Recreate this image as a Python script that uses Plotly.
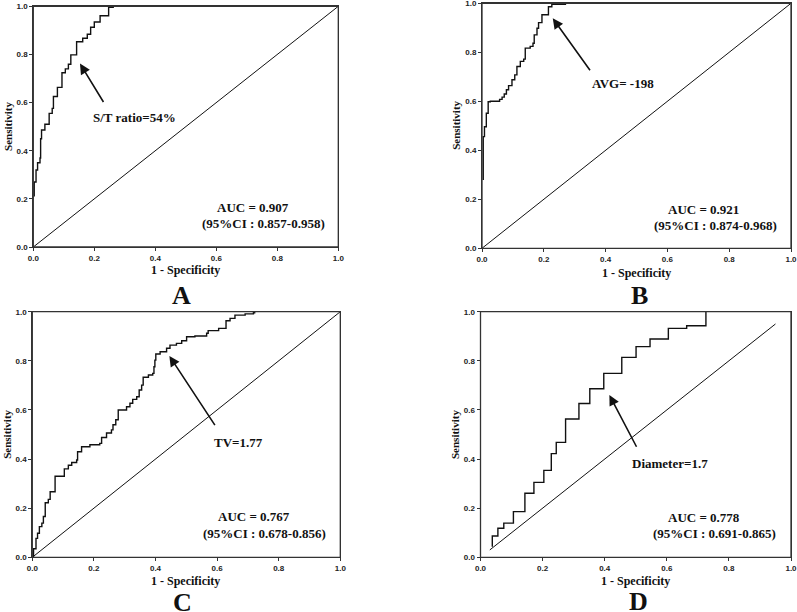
import plotly.graph_objects as go

# ROC curve A : S/T ratio
fpr_a = [0.003, 0.003, 0.009, 0.014, 0.022, 0.024, 0.027, 0.038, 0.052, 0.062, 0.066, 0.079,
         0.094, 0.105, 0.115, 0.123, 0.142, 0.162, 0.177, 0.188, 0.200, 0.219, 0.247, 0.262, 0.270]
tpr_a = [0.210, 0.270, 0.320, 0.350, 0.370, 0.450, 0.486, 0.510, 0.555, 0.576, 0.625, 0.663,
         0.724, 0.740, 0.759, 0.798, 0.853, 0.867, 0.884, 0.913, 0.935, 0.961, 0.996, 1.000, 1.000]

# ROC curve B : AVG
fpr_b = [0.004, 0.004, 0.008, 0.014, 0.020, 0.027, 0.057, 0.065, 0.072, 0.079, 0.086, 0.097,
         0.106, 0.113, 0.124, 0.135, 0.140, 0.156, 0.165, 0.169, 0.178, 0.183, 0.194, 0.215,
         0.226, 0.270]
tpr_b = [0.279, 0.456, 0.496, 0.551, 0.598, 0.600, 0.608, 0.617, 0.630, 0.647, 0.664, 0.688,
         0.708, 0.742, 0.763, 0.772, 0.817, 0.824, 0.837, 0.871, 0.898, 0.921, 0.953, 0.986,
         0.996, 1.000]

# ROC curve C : TV
fpr_c = [0.000, 0.004, 0.012, 0.017, 0.023, 0.031, 0.036, 0.042, 0.052, 0.058, 0.074, 0.101,
         0.104, 0.117, 0.128, 0.144, 0.147, 0.160, 0.187, 0.219, 0.225, 0.241, 0.257, 0.262,
         0.271, 0.279, 0.306, 0.317, 0.326, 0.339, 0.347, 0.355, 0.360, 0.377, 0.391, 0.395,
         0.398, 0.401, 0.415, 0.436, 0.447, 0.468, 0.485, 0.501, 0.528, 0.566, 0.571, 0.605,
         0.629, 0.642, 0.658, 0.691, 0.718, 0.722]
tpr_c = [0.000, 0.035, 0.077, 0.098, 0.125, 0.139, 0.166, 0.222, 0.236, 0.267, 0.330, 0.330,
         0.360, 0.375, 0.386, 0.396, 0.430, 0.450, 0.458, 0.464, 0.488, 0.506, 0.519, 0.540,
         0.560, 0.600, 0.613, 0.627, 0.643, 0.654, 0.681, 0.701, 0.733, 0.742, 0.749, 0.776,
         0.803, 0.828, 0.837, 0.851, 0.864, 0.871, 0.882, 0.898, 0.901, 0.912, 0.923, 0.932,
         0.963, 0.973, 0.986, 0.991, 0.996, 1.000]

# ROC curve D : Diameter
fpr_d = [0.038, 0.038, 0.056, 0.075, 0.106, 0.143, 0.172, 0.204, 0.228, 0.244, 0.274, 0.317,
         0.352, 0.397, 0.455, 0.501, 0.546, 0.605, 0.664, 0.726]
tpr_d = [0.043, 0.087, 0.118, 0.139, 0.186, 0.261, 0.305, 0.354, 0.422, 0.468, 0.563, 0.626,
         0.686, 0.749, 0.814, 0.858, 0.889, 0.932, 0.943, 1.000]

# reference lines
diag_ac = [0.0, 1.0]
diag_d = [0.03, 0.95]

panels = ["A", "B", "C", "D"]
auc_text = ["AUC = 0.907", "AUC = 0.921", "AUC = 0.767", "AUC = 0.778"]
ci_text = ["(95%CI : 0.857-0.958)", "(95%CI : 0.874-0.968)",
           "(95%CI : 0.678-0.856)", "(95%CI : 0.691-0.865)"]
cut_text = ["S/T ratio=54%", "AVG= -198", "TV=1.77", "Diameter=1.7"]

# arrow head / tail and label position (data coords)
arrow_head = [(0.153, 0.762), (0.229, 0.939), (0.445, 0.820), (0.415, 0.661)]
arrow_tail = [(0.233, 0.596), (0.353, 0.721), (0.596, 0.532), (0.505, 0.444)]
cut_pos = [(0.333, 0.540), (0.457, 0.673), (0.669, 0.467), (0.611, 0.383)]
auc_pos = [(0.721, 0.165), (0.716, 0.160), (0.720, 0.165), (0.720, 0.163)]
ci_pos = [(0.756, 0.098), (0.755, 0.095), (0.755, 0.098), (0.755, 0.098)]

W, H = 797, 612
# plot areas in pixels: left, right, top, bottom
boxes = [(33.3, 338.3, 6.3, 247.0), (482.0, 791.0, 3.3, 248.3),
         (32.3, 340.3, 311.7, 557.3), (480.5, 791.0, 311.7, 557.3)]
# panel letter offsets from the box centre / bottom, pixels
letter_dx = [-4, 3, -4, 3]
letter_dy = [48, 47, 45, 44]
xtitle_dy = [23, 25, 24, 24]

SERIF = "Liberation Serif"
SANS = "Liberation Sans"
FRAME = "#333"

fig = go.Figure()
curves = [(fpr_a, tpr_a), (fpr_b, tpr_b), (fpr_c, tpr_c), (fpr_d, tpr_d)]
diags = [diag_ac, diag_ac, diag_ac, diag_d]

annotations = []
shapes = []
for i, name in enumerate(panels):
    sfx = "" if i == 0 else str(i + 1)
    xa, ya = "x" + sfx, "y" + sfx
    fx, fy = curves[i]
    fig.add_trace(go.Scatter(x=diags[i], y=diags[i], mode="lines", xaxis=xa, yaxis=ya,
                             line=dict(color="#111", width=1), showlegend=False, hoverinfo="skip"))
    fig.add_trace(go.Scatter(x=fx, y=fy, mode="lines", xaxis=xa, yaxis=ya,
                             line=dict(color="#111", width=1.4, shape="hv"),
                             showlegend=False, cliponaxis=False))

    l, r, t, b = boxes[i]
    dom_x = [l / W, r / W]
    dom_y = [1 - b / H, 1 - t / H]
    axis_common = dict(range=[0, 1], dtick=0.2, tickformat=".1f", showgrid=False, zeroline=False,
                       showline=True, mirror=True, linecolor=FRAME, linewidth=1,
                       ticks="outside", ticklen=3, tickcolor=FRAME, automargin=False,
                       ticklabeloverflow="allow",
                       tickfont=dict(family=SANS, size=8, color="#222", weight="bold"))
    fig.update_layout({
        "xaxis" + sfx: dict(axis_common, domain=dom_x, anchor=ya),
        "yaxis" + sfx: dict(axis_common, domain=dom_y, anchor=xa),
    })
    # frame round the plot area, in paper coords so it is not clipped by the subplot
    shapes.append(dict(type="rect", xref="paper", yref="paper",
                       x0=dom_x[0], x1=dom_x[1], y0=dom_y[0], y1=dom_y[1],
                       line=dict(color=FRAME, width=1.3), fillcolor="rgba(0,0,0,0)",
                       layer="above"))

    text_font = dict(family=SERIF, size=13, color="#111", weight="bold")
    # cutoff arrow
    hx, hy = arrow_head[i]
    tx, ty = arrow_tail[i]
    annotations.append(dict(x=hx, y=hy, ax=tx, ay=ty, xref=xa, yref=ya, axref=xa, ayref=ya,
                            text="", showarrow=True, arrowhead=2, arrowsize=1.3,
                            arrowwidth=1.6, arrowcolor="#111"))
    for (px, py), txt in [(cut_pos[i], cut_text[i]), (auc_pos[i], auc_text[i]),
                          (ci_pos[i], ci_text[i])]:
        annotations.append(dict(x=px, y=py, xref=xa, yref=ya, text=txt, showarrow=False,
                                xanchor="center", yanchor="middle", font=text_font))

    # axis titles and panel letter (paper coords)
    mid_x = (l + r) / 2
    annotations.append(dict(x=(l - 26) / W, y=1 - ((t + b) / 2) / H, xref="paper", yref="paper",
                            text="Sensitivity", textangle=-90, showarrow=False,
                            xanchor="center", yanchor="middle",
                            font=dict(family=SERIF, size=11, color="#111", weight="bold")))
    annotations.append(dict(x=(mid_x - 0.5) / W, y=1 - (b + xtitle_dy[i]) / H,
                            xref="paper", yref="paper", text="1 - Specificity", showarrow=False,
                            xanchor="center", yanchor="middle",
                            font=dict(family=SERIF, size=12, color="#111", weight="bold")))
    annotations.append(dict(x=(mid_x + letter_dx[i]) / W, y=1 - (b + letter_dy[i]) / H,
                            xref="paper", yref="paper", text=name, showarrow=False,
                            xanchor="center", yanchor="middle",
                            font=dict(family=SERIF, size=26, color="#111", weight="bold")))

fig.update_layout(width=W, height=H, margin=dict(l=0, r=0, t=0, b=0),
                  plot_bgcolor="white", paper_bgcolor="white",
                  annotations=annotations, shapes=shapes)

# page body has a default 8px margin; drop it so the figure fills the window
fig.write_html("out.html", config={"displayModeBar": False},
               post_script="document.body.style.margin='0';document.body.style.overflow='hidden';")
